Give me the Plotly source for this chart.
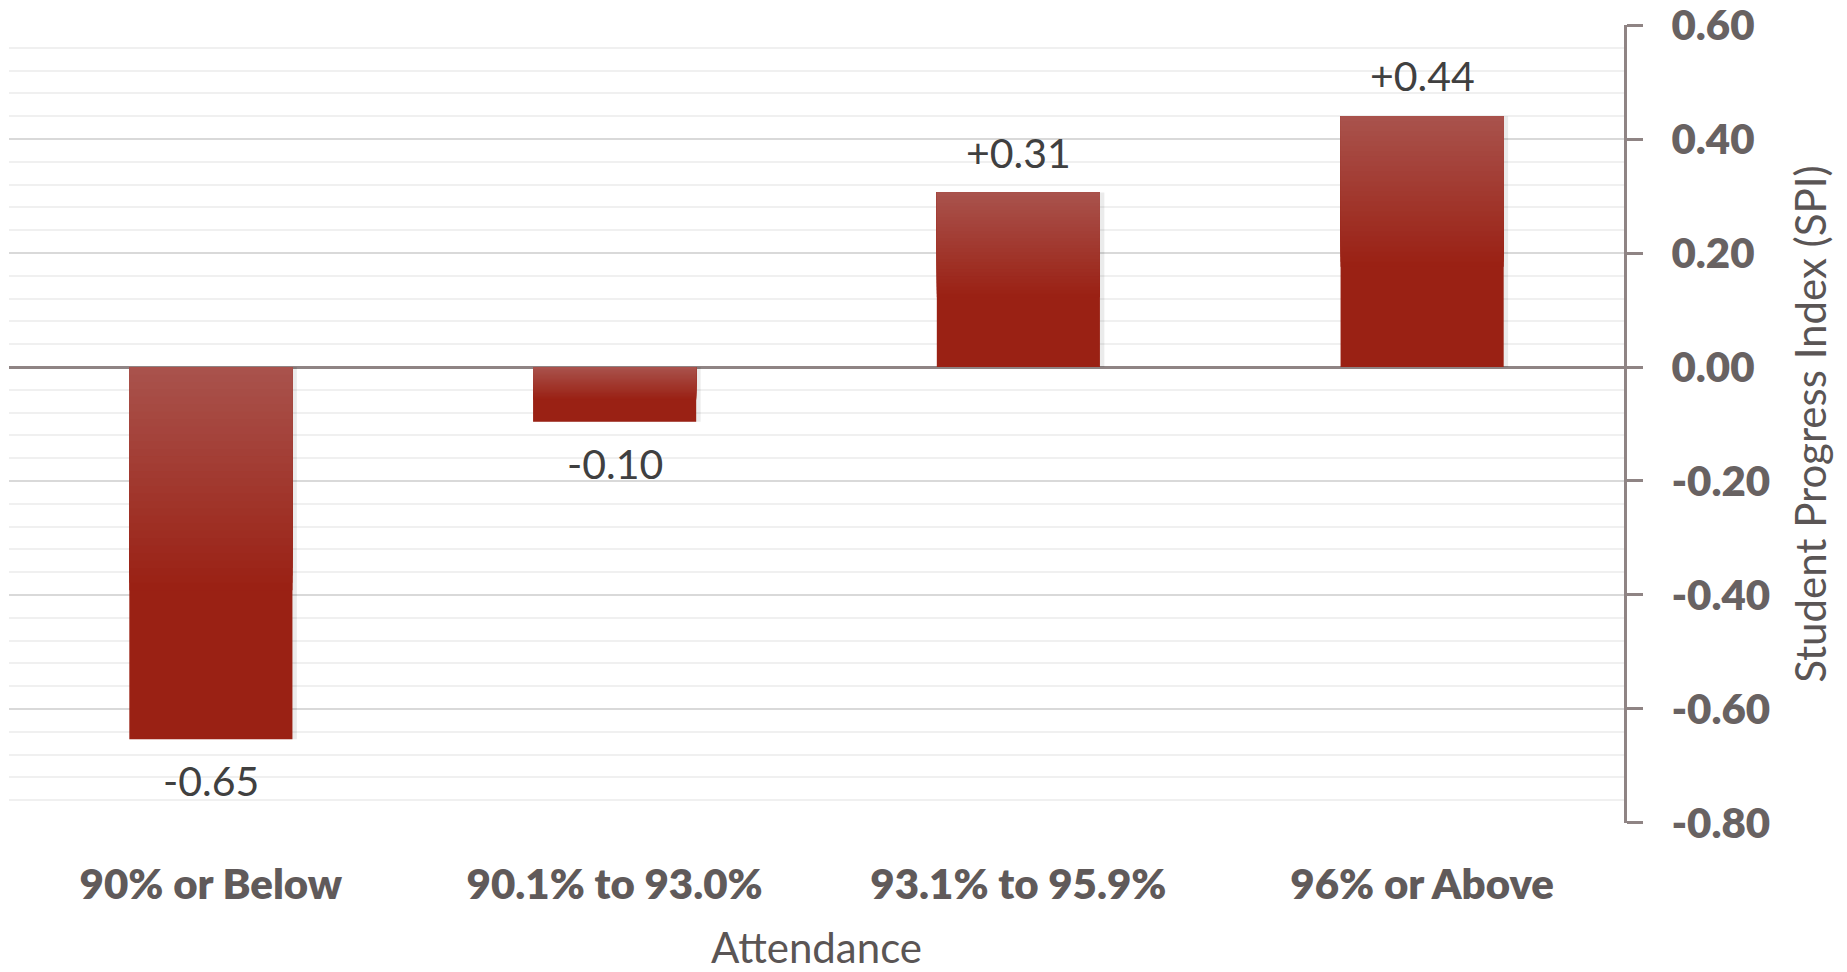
import plotly.graph_objects as go

categories = ["90% or Below", "90.1% to 93.0%", "93.1% to 95.9%", "96% or Above"]
spi_values = [-0.653, -0.096, 0.306, 0.44]
value_labels = ["-0.65", "-0.10", "+0.31", "+0.44"]
y_tick_values = [-0.8, -0.6, -0.4, -0.2, 0.0, 0.2, 0.4, 0.6]
y_tick_labels = ["-0.80", "-0.60", "-0.40", "-0.20", "0.00", "0.20", "0.40", "0.60"]

FONT = "Lato"
BAR_W = 0.404
DARK = (154, 33, 20)
LIGHT = (169, 82, 76)

fig = go.Figure()

# soft shadow behind the bars
fig.add_trace(go.Bar(
    x=categories, y=spi_values, width=BAR_W + 0.01, offset=-(BAR_W / 2) + 0.001,
    marker=dict(color="rgba(0,0,0,0.08)", line=dict(width=0)),
    hoverinfo="skip", showlegend=False,
))

# base (dark) bars
fig.add_trace(go.Bar(
    x=categories, y=spi_values, width=BAR_W,
    marker=dict(color="rgb(%d,%d,%d)" % DARK, line=dict(width=0)),
    showlegend=False,
))

# gradient layers in the upper part of each bar (lighter at the top),
# drawn from the longest (darkest) to the shortest (lightest)
N = 30
G = 0.6
tops = [max(v, 0) for v in spi_values]
hs = [abs(v) for v in spi_values]
for i in range(N - 1, -1, -1):
    t = i / (N - 1)
    c = tuple(int(round(LIGHT[k] + (DARK[k] - LIGHT[k]) * t)) for k in range(3))
    seg_h = [h * G * (i + 1) / N for h in hs]
    bases = [tp - sh for tp, sh in zip(tops, seg_h)]
    fig.add_trace(go.Bar(
        x=categories, y=seg_h, base=bases, width=BAR_W,
        marker=dict(color="rgb(%d,%d,%d)" % c, line=dict(width=0)),
        hoverinfo="skip", showlegend=False,
    ))

# value labels
for cat, v, lab in zip(categories, spi_values, value_labels):
    fig.add_annotation(
        x=cat, y=v, text=lab, showarrow=False,
        yanchor="bottom" if v >= 0 else "top",
        yshift=14 if v >= 0 else -15,
        font=dict(family=FONT, size=41, color="#404040"),
    )

fig.update_layout(
    width=1847, height=972,
    margin=dict(l=9, r=223, t=25, b=149, autoexpand=False),
    paper_bgcolor="white", plot_bgcolor="white",
    barmode="overlay", bargap=0.6,
    showlegend=False,
    font=dict(family=FONT),
)

fig.update_xaxes(
    automargin=True,
    showgrid=False, showline=False, zeroline=False,
    ticks="outside", ticklen=0, ticklabelstandoff=25,
    tickfont=dict(family=FONT, size=42, color="#605a5a", weight=800),
    title=dict(text="Attendance", standoff=26,
               font=dict(family=FONT, size=42, color="#5a5555")),
    fixedrange=True,
)

fig.update_yaxes(
    automargin=False,
    side="right", range=[-0.8001, 0.6001],
    tickvals=y_tick_values, ticktext=y_tick_labels,
    ticklabeloverflow="allow",
    showgrid=True, gridcolor="#d9d9d9", gridwidth=2,
    minor=dict(dtick=0.04, tick0=0, showgrid=True, gridcolor="#f0f0f0", gridwidth=2, ticks=""),
    zeroline=True, zerolinecolor="#8f8484", zerolinewidth=3,
    showline=True, linecolor="#8f8484", linewidth=3,
    ticks="outside", ticklen=16, tickwidth=3, tickcolor="#8f8484",
    ticklabelstandoff=20,
    tickfont=dict(family=FONT, size=42, color="#686262", weight=800),
    title=dict(text="Student Progress Index (SPI)", standoff=28,
               font=dict(family=FONT, size=42, color="#5a5555")),
    fixedrange=True,
)

fig.write_html(
    "out.html",
    config={"displayModeBar": False},
    post_script="document.body.style.margin='0';document.body.style.overflow='hidden';",
)
